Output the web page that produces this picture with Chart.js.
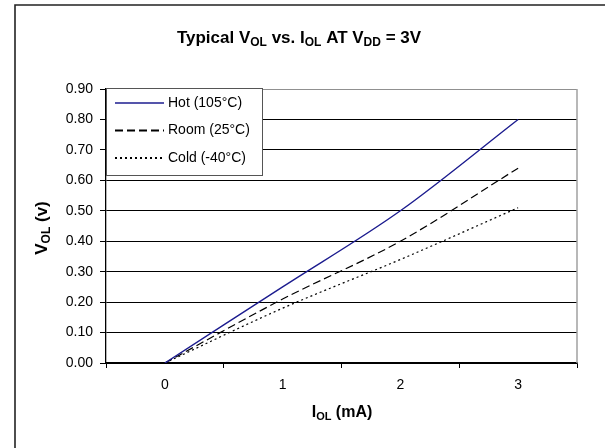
<!DOCTYPE html>
<html>
<head>
<meta charset="utf-8">
<script src="https://cdn.jsdelivr.net/npm/chart.js@4.4.1/dist/chart.umd.min.js"></script>
<style>
  html, body { margin: 0; padding: 0; background: #fff; }
  #wrap { position: relative; width: 605px; height: 448px; }
</style>
</head>
<body>
<div id="wrap"><canvas id="chart" width="605" height="448"></canvas></div>
<script>
// I_OL (mA) categories
const currents = ['0', '1', '2', '3'];
// V_OL (v) per temperature
const hotVol = [0, 0.25, 0.50, 0.80];
const roomVol = [0, 0.21, 0.40, 0.64];
const coldVol = [0, 0.18, 0.34, 0.51];
const seriesNames = ['Hot (105°C)', 'Room (25°C)', 'Cold (-40°C)'];

const FONT = '"Liberation Sans", Arial, sans-serif';

// draws text with subscript parts, centered on cx,cy
function drawRich(ctx, parts, cx, cy, size) {
    const subSize = Math.round(size * 0.68);
    let total = 0;
    parts.forEach(p => {
        ctx.font = 'bold ' + (p.sub ? subSize : size) + 'px ' + FONT;
        p.w = ctx.measureText(p.t).width;
        total += p.w;
    });
    let x = cx - total / 2;
    const base = cy + size * 0.36;
    ctx.textBaseline = 'alphabetic';
    ctx.textAlign = 'left';
    ctx.fillStyle = '#000';
    parts.forEach(p => {
        ctx.font = 'bold ' + (p.sub ? subSize : size) + 'px ' + FONT;
        ctx.fillText(p.t, x, p.sub ? base + size * 0.18 : base);
        x += p.w;
    });
}

const decorPlugin = {
    id: 'decor',
    afterDatasetsDraw(chart) {
        const ctx = chart.ctx;
        const a = chart.chartArea;
        ctx.save();
        // plot area border right side
        ctx.strokeStyle = '#a0a0a0';
        ctx.lineWidth = 1.5;
        ctx.beginPath();
        ctx.moveTo(a.right, a.top);
        ctx.lineTo(a.right, a.bottom);
        ctx.stroke();

        // legend box
        const lx = 106.5, ly = 88.5, lw = 156, lh = 87;
        ctx.fillStyle = '#fff';
        ctx.fillRect(lx, ly, lw, lh);
        ctx.strokeStyle = '#555';
        ctx.lineWidth = 1;
        ctx.strokeRect(lx, ly, lw, lh);
        chart.data.datasets.forEach((ds, i) => {
            const y = 103 + i * 27.5;
            ctx.strokeStyle = ds.borderColor;
            ctx.lineWidth = ds.borderWidth + (i > 0 ? 0.6 : 0);
            ctx.setLineDash(ds.borderDash || []);
            ctx.beginPath();
            ctx.moveTo(115, y);
            ctx.lineTo(164, y);
            ctx.stroke();
            ctx.setLineDash([]);
            ctx.fillStyle = '#000';
            ctx.font = '14px ' + FONT;
            ctx.textAlign = 'left';
            ctx.textBaseline = 'middle';
            ctx.fillText(seriesNames[i], 168, y);
        });

        // outer frame
        ctx.strokeStyle = '#222';
        ctx.lineWidth = 1.6;
        ctx.beginPath();
        ctx.moveTo(15, 460);
        ctx.lineTo(15, 5);
        ctx.lineTo(620, 5);
        ctx.stroke();

        // titles
        drawRich(ctx, [
            {t: 'Typical V'}, {t: 'OL', sub: true}, {t: ' vs. I'}, {t: 'OL', sub: true},
            {t: ' AT V'}, {t: 'DD', sub: true}, {t: ' = 3V'}
        ], 299, 37, 17);
        drawRich(ctx, [{t: 'I'}, {t: 'OL', sub: true}, {t: ' (mA)'}], 342, 411, 16);
        ctx.translate(41, 228);
        ctx.rotate(-Math.PI / 2);
        drawRich(ctx, [{t: 'V'}, {t: 'OL', sub: true}, {t: ' (v)'}], 0, 0, 17);
        ctx.restore();
    }
};

new Chart(document.getElementById('chart'), {
    type: 'line',
    data: {
        labels: currents,
        datasets: [{
            label: seriesNames[0],
            data: hotVol,
            borderColor: '#1c1c8f',
            borderWidth: 1.4,
            borderDash: []
        }, {
            label: seriesNames[1],
            data: roomVol,
            borderColor: '#000',
            borderWidth: 1.2,
            borderDash: [8, 4]
        }, {
            label: seriesNames[2],
            data: coldVol,
            borderColor: '#000',
            borderWidth: 1.2,
            borderDash: [2, 3]
        }]
    },
    options: {
        responsive: false,
        animation: false,
        devicePixelRatio: 1,
        layout: { padding: { left: 0, top: 89, right: 28, bottom: 0 } },
        elements: {
            point: { radius: 0 },
            line: { cubicInterpolationMode: 'monotone' }
        },
        plugins: {
            legend: { display: false },
            title: { display: false },
            tooltip: { enabled: false }
        },
        scales: {
            x: {
                type: 'category',
                offset: true,
                afterFit: (scale) => { scale.height = 85; },
                grid: { offset: true, drawOnChartArea: false, color: '#000', tickLength: 5 },
                border: { color: '#000', width: 1.3 },
                ticks: { color: '#000', font: { family: FONT, size: 14 }, padding: 9, maxRotation: 0 }
            },
            y: {
                min: 0,
                max: 0.9,
                afterFit: (scale) => { scale.width = 106; },
                grid: {
                    color: (c) => c.tick && c.tick.value >= 0.89 ? '#909090' : '#000',
                    tickColor: '#000',
                    tickLength: 6,
                    lineWidth: 1
                },
                border: { color: '#000', width: 1.3 },
                ticks: {
                    stepSize: 0.1,
                    color: '#000',
                    font: { family: FONT, size: 14 },
                    padding: 7,
                    callback: (v) => v.toFixed(2)
                }
            }
        }
    },
    plugins: [decorPlugin]
});
</script>
</body>
</html>
